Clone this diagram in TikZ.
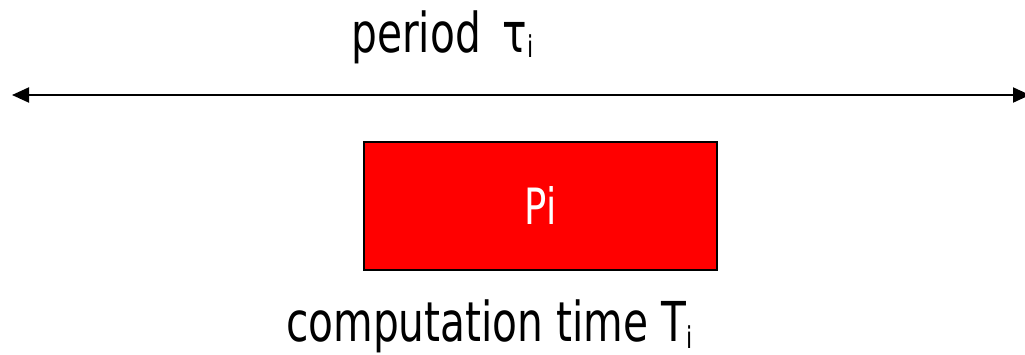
\documentclass[tikz,border=0pt]{standalone}
\usepackage{fontspec}
\usetikzlibrary{arrows.meta,positioning}
\newfontfamily\labelfont[FakeStretch=0.74]{DejaVu Sans}
\newcommand{\lowsub}[2][5pt]{\raisebox{-#1}{\fontsize{30}{32}\selectfont #2}}

\begin{document}
\begin{tikzpicture}[x=1pt,y=-1pt,
    lbl/.style={font=\labelfont\fontsize{55}{60}\selectfont, inner sep=0pt, anchor=base west},
    task/.style={draw=black, line width=2.2pt, fill=red, text=white,
        minimum width=353pt, minimum height=128pt, inner sep=0pt,
        font=\labelfont\fontsize{50}{55}\selectfont}]
    \useasboundingbox (0,0) rectangle (1025,354);

    \coordinate (L) at (12,95);
    \coordinate (R) at (1030,95);
    \draw[line width=2pt, {Triangle[length=17pt,width=15pt]}-{Triangle[length=17pt,width=15pt]}] (L) -- (R);

    \node[lbl] (period) at (351,52) {period \,τ\lowsub{i}};
    \node[task] (Pi) at (540.5,206) {Pi};
    \node[lbl] (comp) at (286,341) {computation time T\lowsub[7pt]{i}};
\end{tikzpicture}
\end{document}
